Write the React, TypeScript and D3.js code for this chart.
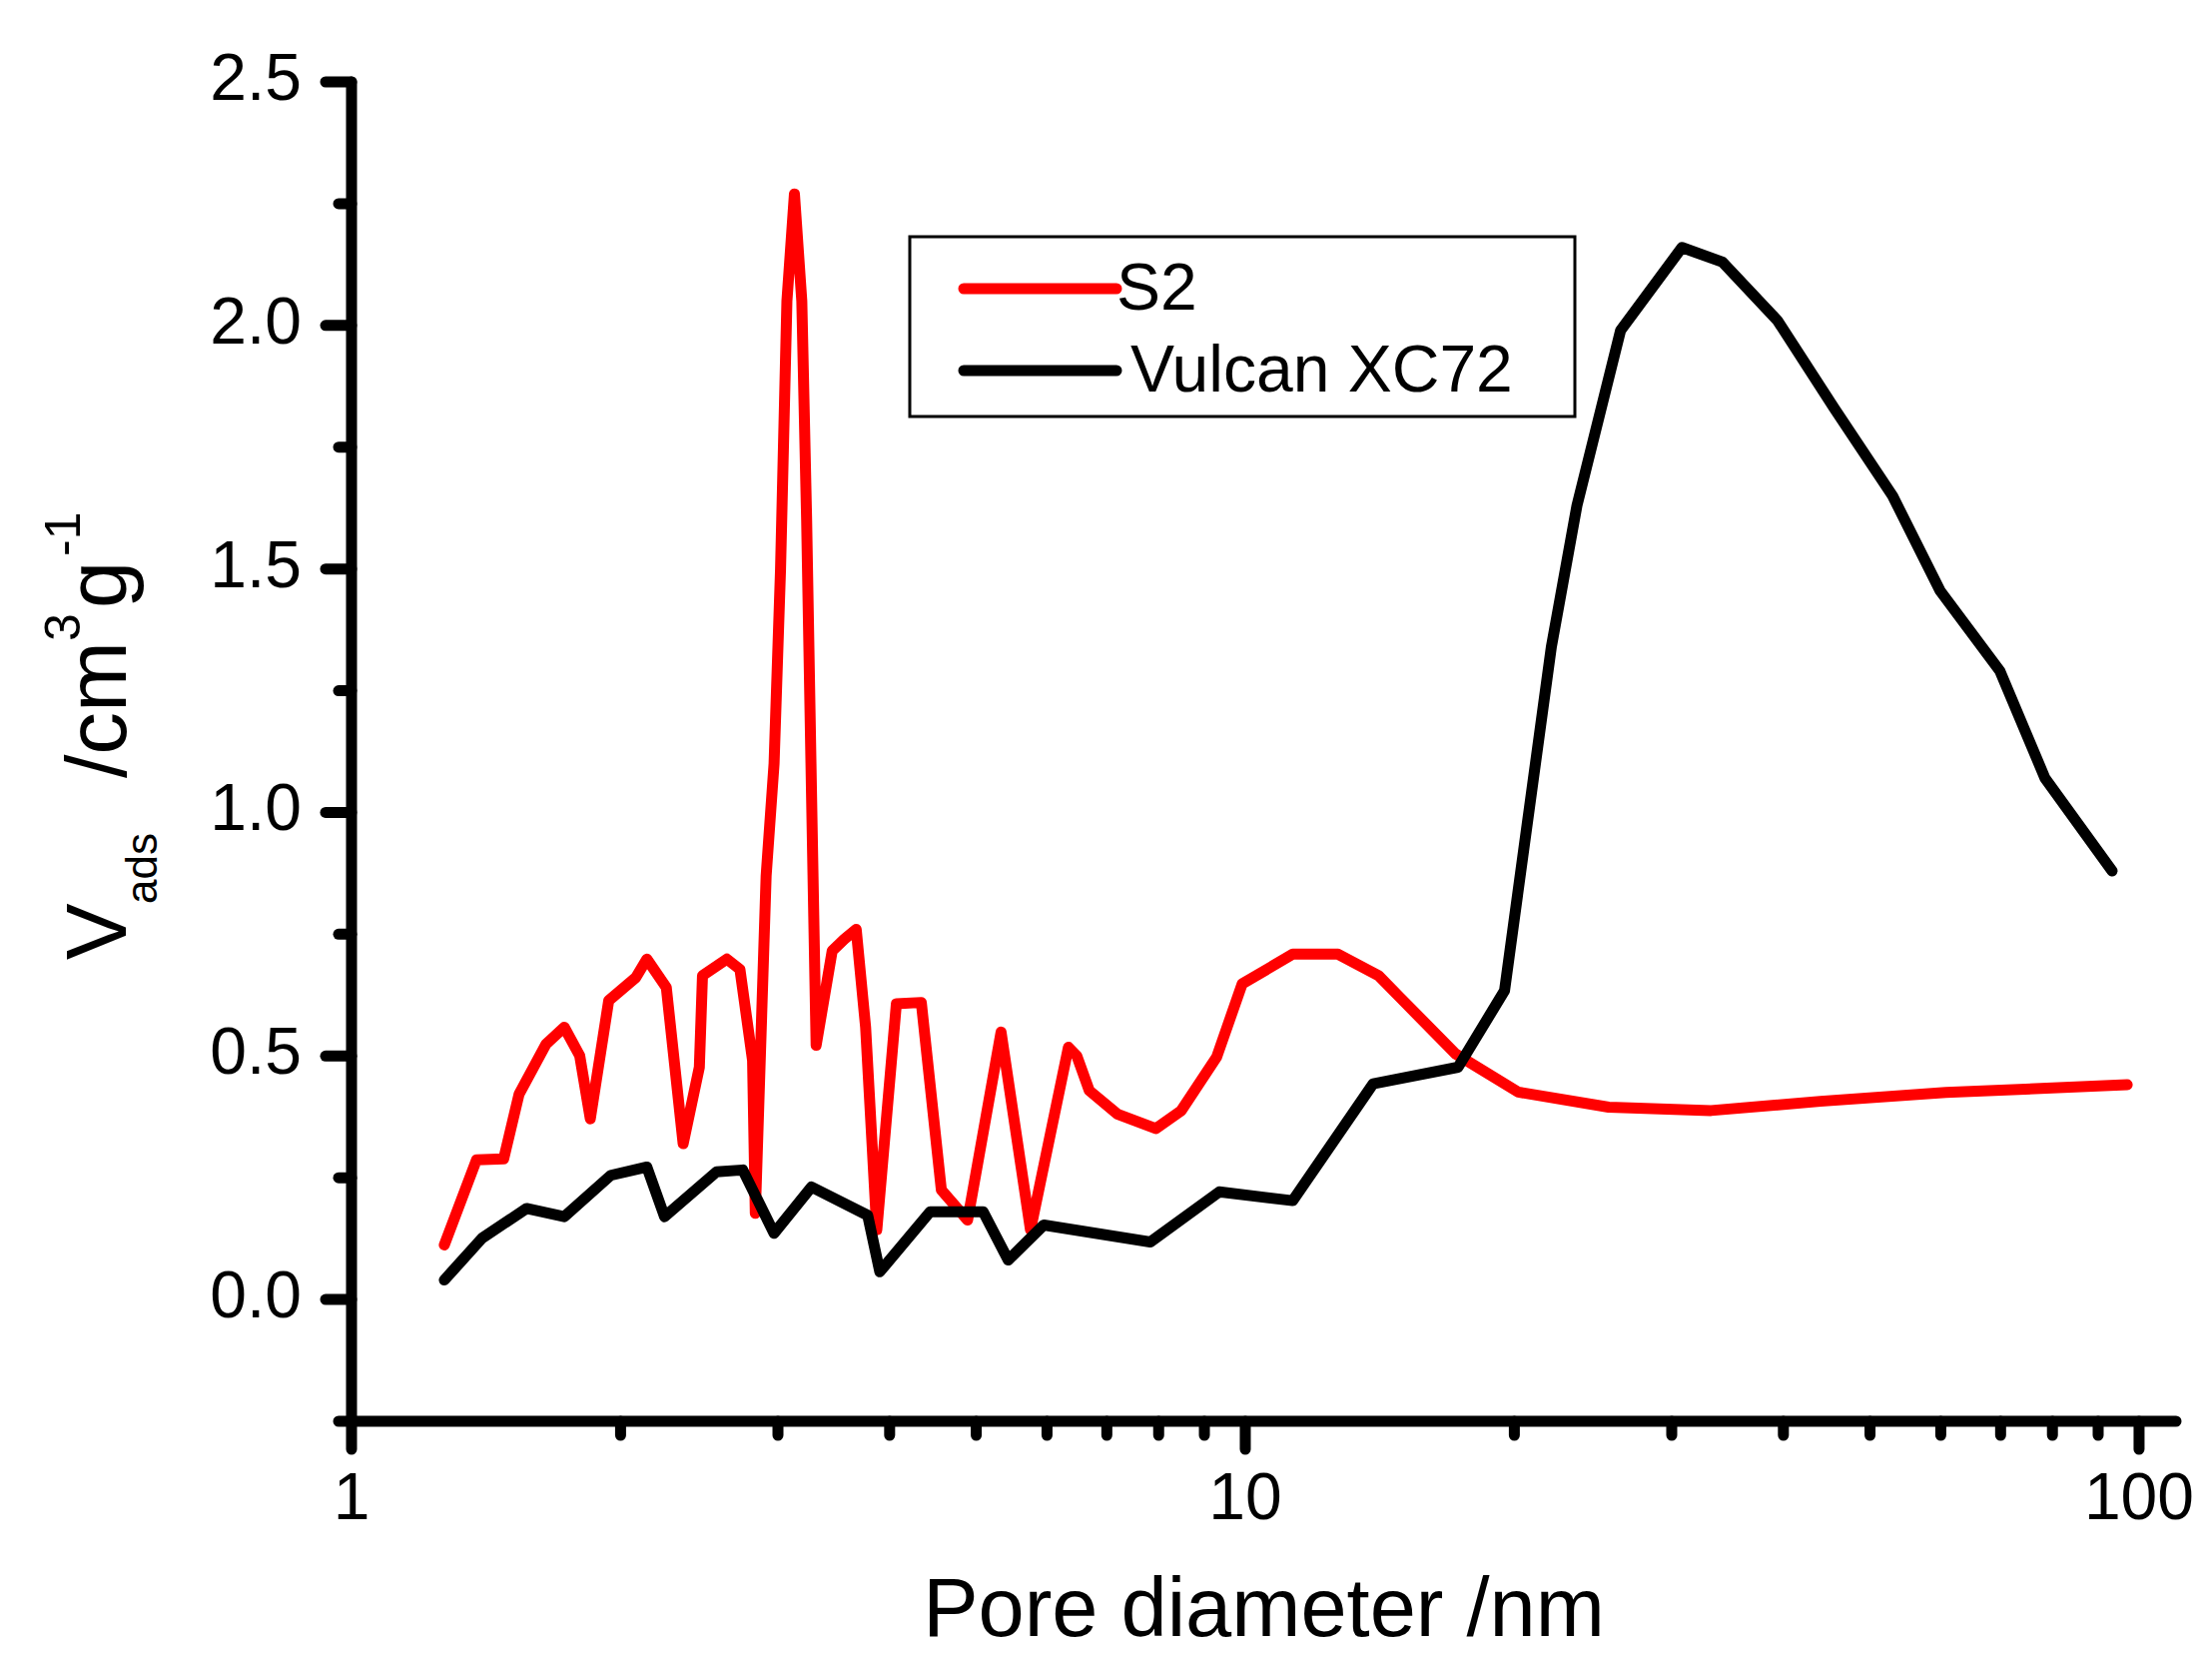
import React from 'react';
import * as d3 from 'd3';

// pore diameter (nm) and adsorbed volume
const s2X = [1.27, 1.38, 1.48, 1.54, 1.65, 1.73, 1.80, 1.85, 1.94, 2.08, 2.14, 2.25, 2.35, 2.45, 2.47,
  2.63, 2.72, 2.81, 2.83, 2.91, 2.97, 3.02, 3.07, 3.13, 3.19, 3.23, 3.27, 3.31, 3.45, 3.56, 3.67,
  3.76, 3.87, 4.07, 4.34, 4.57, 4.89, 5.33, 5.75, 6.34, 6.48, 6.69, 7.19, 7.94, 8.48, 9.29, 9.92,
  11.3, 12.7, 14.1, 14.9, 17.2, 20.2, 25.5, 33.2, 44.0, 60.8, 97.0];
const s2Y = [0.112, 0.287, 0.289, 0.422, 0.524, 0.559, 0.501, 0.371, 0.614, 0.661, 0.699, 0.641, 0.32, 0.477, 0.665,
  0.699, 0.678, 0.491, 0.177, 0.87, 1.1, 1.5, 2.05, 2.27, 2.05, 1.6, 1.05, 0.522, 0.716, 0.74, 0.76,
  0.559, 0.143, 0.607, 0.61, 0.225, 0.163, 0.549, 0.143, 0.518, 0.50, 0.429, 0.381, 0.351, 0.388, 0.498, 0.648,
  0.709, 0.709, 0.665, 0.62, 0.504, 0.426, 0.395, 0.388, 0.407, 0.425, 0.441];

const vulcanX = [1.27, 1.40, 1.57, 1.73, 1.95, 2.14, 2.24, 2.56, 2.74, 2.97, 3.27, 3.78, 3.90, 4.44, 5.09,
  5.43, 5.95, 7.83, 9.35, 11.3, 13.9, 17.3, 19.5, 22.0, 23.5, 26.3, 30.8, 34.2, 39.4, 45.6, 53.0,
  59.9, 69.9, 78.5, 93.3];
const vulcanY = [0.040, 0.126, 0.187, 0.170, 0.255, 0.272, 0.170, 0.262, 0.266, 0.136, 0.231, 0.173, 0.057, 0.180, 0.180,
  0.081, 0.153, 0.118, 0.221, 0.203, 0.443, 0.477, 0.634, 1.34, 1.63, 1.99, 2.16, 2.13, 2.01, 1.83, 1.65,
  1.455, 1.29, 1.07, 0.88];

const yMajorTicks = [0, 0.5, 1.0, 1.5, 2.0, 2.5];
const yMinorTicks = [-0.25, 0.25, 0.75, 1.25, 1.75, 2.25];
const xMajorTicks = [1, 10, 100];
const xMinorTicks = [2, 3, 4, 5, 6, 7, 8, 9, 20, 30, 40, 50, 60, 70, 80, 90];

const seriesNames = ['S2', 'Vulcan XC72'];
const seriesColors = ['#ff0000', '#000000'];

const font = 'Liberation Sans, Arial, sans-serif';

export default function App() {
  const width = 2215;
  const height = 1655;

  // scales
  const x = d3.scaleLog().domain([1, 110]).range([352, 2179]);
  const y = d3.scaleLinear().domain([-0.25, 2.5]).range([1423, 82]);
  const line = d3.line<[number, number]>().x(d => x(d[0])).y(d => y(d[1]));

  const s2 = s2X.map((v, i) => [v, s2Y[i]] as [number, number]);
  const vulcan = vulcanX.map((v, i) => [v, vulcanY[i]] as [number, number]);

  const axisY = y(-0.25);
  const axisX = x(1);

  return (
    <div style={{position: 'absolute', left: 0, top: 0}}>
      <svg width={width} height={height} style={{display: 'block', background: '#fff'}}>
        {/* series */}
        <path d={line(s2) || ''} fill="none" stroke={seriesColors[0]} strokeWidth={11}
          strokeLinejoin="round" strokeLinecap="round" />
        <path d={line(vulcan) || ''} fill="none" stroke={seriesColors[1]} strokeWidth={11}
          strokeLinejoin="round" strokeLinecap="round" />

        {/* axes */}
        <g stroke="#000" strokeWidth={11} strokeLinecap="round" fill="none">
          <path d={`M${axisX},${y(2.5)}V${axisY}H${x(110)}`} strokeLinejoin="round" />
          {yMajorTicks.map(t => <line key={'ym' + t} x1={axisX} x2={axisX - 26} y1={y(t)} y2={y(t)} />)}
          {yMinorTicks.map(t => <line key={'yn' + t} x1={axisX} x2={axisX - 13} y1={y(t)} y2={y(t)} />)}
          {xMajorTicks.map(t => <line key={'xm' + t} x1={x(t)} x2={x(t)} y1={axisY} y2={axisY + 28} />)}
          {xMinorTicks.map(t => <line key={'xn' + t} x1={x(t)} x2={x(t)} y1={axisY} y2={axisY + 14} />)}
        </g>

        {/* tick labels */}
        <g fontFamily={font} fontSize={66} fill="#000">
          {yMajorTicks.map(t => (
            <text key={'yl' + t} x={302} y={y(t) + 18} textAnchor="end">{t.toFixed(1)}</text>
          ))}
          {xMajorTicks.map(t => (
            <text key={'xl' + t} x={x(t)} y={1521} textAnchor="middle">{t}</text>
          ))}
        </g>

        {/* axis titles */}
        <text x={(x(1) + x(110)) / 2} y={1638} textAnchor="middle" fontFamily={font} fontSize={83}>
          Pore diameter /nm
        </text>
        <g transform="translate(126,961) rotate(-90)" fontFamily={font} fill="#000">
          <text x={0} y={0} fontSize={85}>V</text>
          <text x={56} y={31} fontSize={44}>ads</text>
          <text x={182} y={0} fontSize={85}>/cm</text>
          <text x={319} y={-46} fontSize={50}>3</text>
          <text x={352} y={0} fontSize={85}>g</text>
          <text x={404} y={-46} fontSize={50}>-1</text>
        </g>

        {/* legend */}
        <rect x={911} y={237} width={666} height={180} fill="none" stroke="#000" strokeWidth={3} />
        <line x1={965} x2={1118} y1={289} y2={289} stroke={seriesColors[0]} strokeWidth={11} strokeLinecap="round" />
        <line x1={965} x2={1118} y1={371} y2={371} stroke={seriesColors[1]} strokeWidth={11} strokeLinecap="round" />
        <text x={1118} y={310} fontFamily={font} fontSize={66}>{seriesNames[0]}</text>
        <text x={1132} y={392} fontFamily={font} fontSize={66}>{seriesNames[1]}</text>
      </svg>
    </div>
  );
}
